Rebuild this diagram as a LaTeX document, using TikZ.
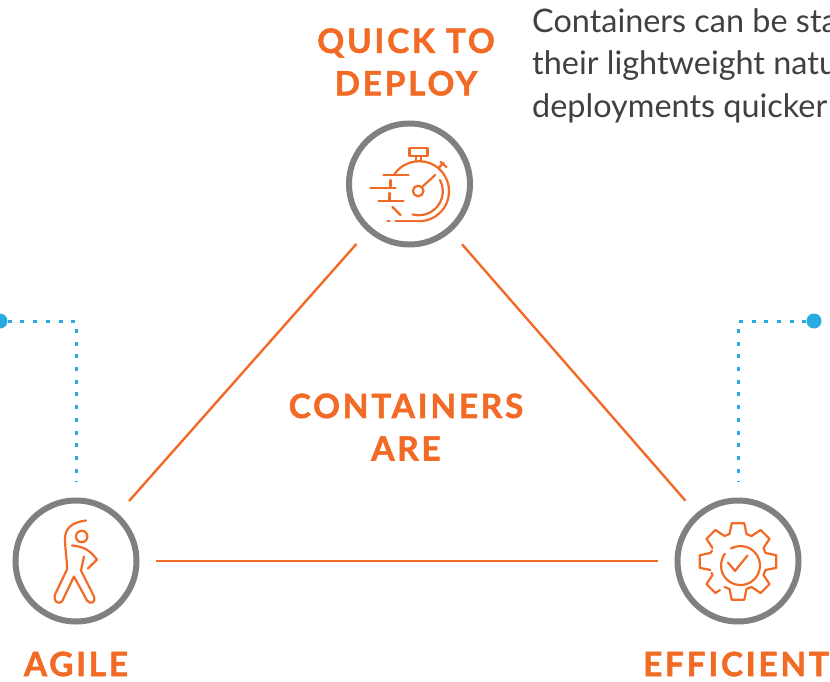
\documentclass[tikz,border=0pt]{standalone}
\usepackage{fontspec}
\usetikzlibrary{positioning}
\setmainfont{Lato}
\newfontfamily\headfont[LetterSpace=8,BoldFeatures={FakeBold=1.5}]{Lato}
\definecolor{contorange}{HTML}{F26B26}
\definecolor{contgrey}{HTML}{808080}
\definecolor{contblue}{HTML}{29ABE2}
\definecolor{conttext}{HTML}{404040}
\tikzset{
	ring/.style = {circle, draw = contgrey, line width = 6pt, minimum size = 121pt, inner sep = 0pt},
	edge/.style = {draw = contorange, line width = 2.4pt, shorten <= 16.5pt, shorten >= 16.5pt},
	icon/.style = {draw = contorange, line width = 2.2pt, line cap = round, line join = round},
	dotline/.style = {draw = contblue, line width = 3pt, dash pattern = on 4pt off 8.7pt},
	dotend/.style = {circle, fill = contblue, minimum size = 15pt, inner sep = 0pt},
	heading/.style = {text = contorange, align = center, font = \headfont\bfseries\fontsize{33.5}{42.5}\selectfont},
	bodytext/.style = {text = conttext, align = left, anchor = north west, inner sep = 0pt, font = \fontsize{32.4}{42.5}\selectfont}
}
\newcommand{\stopwatchicon}{\draw[icon] (8.7,7) circle (5.3);
					\draw[icon] (13.3,2.3) -- (25.7,-9);
					\draw[icon] (0,-36.3) rectangle (18,-28.3);
					\draw[icon] (6.7,-28.3) -- (6.7,-23);
					\draw[icon] (11.3,-28.3) -- (11.3,-23);
					\draw[icon] (-15,-10) arc [start angle = -145, end angle = 90, radius = 30];
					\draw[icon] (8.7,37) -- (-14,37);
					\draw[icon] (30.5,-4) arc [start angle = -28, end angle = 105, radius = 24];
					\draw[icon] (29,-16) -- (34,-21);
					\draw[icon] (31,-22) -- (37,-17);
					\draw[icon] (-26,-9) -- (-1,-9);
					\draw[icon] (-39,4) -- (-14,4);
					\draw[icon] (-31,17) -- (-6,17);
					\draw[icon] (-19,-4) -- (-19,4);
					\draw[icon] (-20,9) -- (-20,17);
					\draw[icon] (-17,23) -- (-9,31);
					\draw[icon] (-22,37) -- (-20,37);}
\newcommand{\stretchicon}{\draw[icon] (5.7,-25) circle (5.7);
					\draw[icon] (10,-41) .. controls (-5,-39) and (-11,-33) .. (-11,-22) .. controls (-11,-14) and (-9,-2) .. (-9,8) -- (-21,33) .. controls (-23,41) and (-17,43) .. (-14,40) -- (-2,15) -- (11,39) .. controls (14,43) and (20,42) .. (18,35) -- (5,9) -- (8,-5);
					\draw[icon] (-4,-16) .. controls (8,-15) and (14,-11) .. (21,-2) -- (12,7);}
\newcommand{\gearicon}{\draw[icon] (-7,-13) arc [start angle = -119, end angle = 217, radius = 19.5];
					\draw[icon] (-10,1) -- (-3,9.5) -- (9.5,-6);
					\foreach \angle in {-90,-45,0,45,90,135}{
						\draw[icon, rotate = \angle] (27.5,-8.5) -- (38.3,-6.3) -- (38.3,6.3) -- (27.5,8.5) -- (27.8:28.8);
					}
					\draw[icon, rotate = 180] (27.5,-8.5) -- (38.3,-6.3) -- (38.3,6.3) -- (27.5,8.5) -- (26,11);
					\draw[icon, rotate = -135] (33,-7.4) -- (38.3,-6.3) -- (38.3,6.3) -- (27.5,8.5) -- (22:28.8);}

\begin{document}
\begin{tikzpicture}[x = 1pt, y = -1pt]

					\useasboundingbox (0,0) rectangle (830,682);
					\clip (0,0) rectangle (830,682);

					\node[ring] (quick) at (409.5,184) {};
					\node[ring] (agile) at (76,561) {};
					\node[ring] (efficient) at (738,561) {};

					\draw[edge] (quick) -- (agile);
					\draw[edge] (quick) -- (efficient);
					\draw[edge] (agile) -- (efficient);

					\node[dotend] (dotagile) at (0,321) {};
					\node[dotend] (dotefficient) at (814,321) {};
					\draw[dotline, shorten >= 16pt] (dotagile) -| (agile);
					\draw[dotline, shorten >= 16pt] (dotefficient) -| (efficient);

					\begin{scope}[shift = {(409.5,184)}]
						\stopwatchicon
					\end{scope}

					\begin{scope}[shift = {(76,561.5)}]
						\stretchicon
					\end{scope}

					\begin{scope}[shift = {(738,561.5)}]
						\gearicon
					\end{scope}

					\node[heading] (quicklabel) at (406,62) {QUICK TO\\DEPLOY};
					\node[heading] (centrelabel) at (406,427) {CONTAINERS\\ARE};
					\node[heading] (agilelabel) at (76,664) {AGILE};
					\node[heading] (efficientlabel) at (736,664) {EFFICIENT};

					\node[bodytext] (quicktext) at (532,8) {Containers can be sta\\their lightweight natu\\deployments quicker};

				\end{tikzpicture}
\end{document}
